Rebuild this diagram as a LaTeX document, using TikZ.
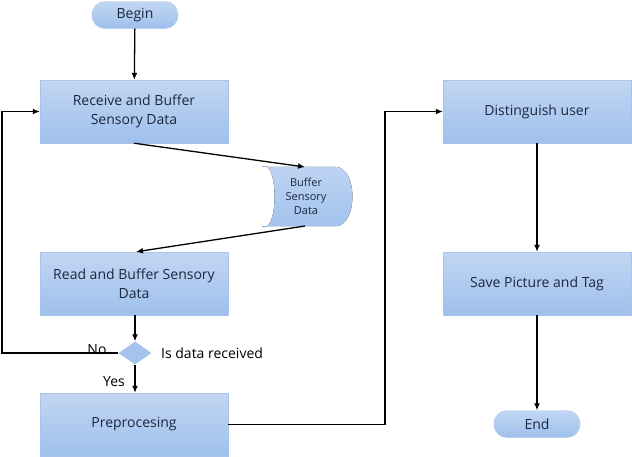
\documentclass[tikz,border=0pt]{standalone}
\usepackage{fontspec}
\setmainfont{Open Sans}
\usetikzlibrary{shapes.geometric,arrows.meta}
\definecolor{boxtop}{HTML}{C2D6F3}
\definecolor{boxbot}{HTML}{9EC0EC}
\definecolor{boxedge}{HTML}{A8C4EA}
\definecolor{txt}{HTML}{1C2740}
\definecolor{diafill}{HTML}{A5C3EC}
\tikzset{
  procbox/.style={rectangle, top color=boxtop, bottom color=boxbot, draw=boxedge, line width=0.4pt,
    minimum width=188pt, minimum height=63pt, align=center, text=txt, font=\fontsize{14}{19}\selectfont, inner sep=2pt},
  termbox/.style={rectangle, rounded corners=13pt, top color=boxtop, bottom color=boxbot, draw=boxedge, line width=0.4pt,
    minimum width=86pt, minimum height=27pt, text=txt, font=\fontsize{14}{17}\selectfont, inner sep=1pt},
  decbox/.style={diamond, fill=diafill, minimum width=33pt, minimum height=23pt, inner sep=0pt, aspect=1.45},
  conn/.style={draw=black, line width=1.3pt, -{Latex[length=7pt,width=6pt]}},
  plain/.style={font=\fontsize{14}{17}\selectfont, text=black, inner sep=1pt},
}
\begin{document}
\begin{tikzpicture}[x=1pt,y=-1pt]
\useasboundingbox (0,0) rectangle (632,456);
\node[termbox] (begin) at (135,15) {Begin};
\node[procbox] (recv) at (134,111.5) {Receive and Buffer\\Sensory Data};
% stored data shape
\node[minimum width=93pt, minimum height=59pt, inner sep=0pt] (buf) at (308.5,196.5) {};
\fill[top color=boxtop, bottom color=boxbot]
  (buf.north west) -- ([xshift=-20pt]buf.north east)
  .. controls ([xshift=3pt]buf.north east) and ([xshift=3pt]buf.south east) .. ([xshift=-20pt]buf.south east)
  -- (buf.south west)
  .. controls ([xshift=17pt,yshift=-10pt]buf.south west) and ([xshift=17pt,yshift=10pt]buf.north west) .. cycle;
\node[align=center, text=txt, font=\fontsize{11}{14}\selectfont] (buftext) at (306,196) {Buffer\\Sensory\\Data};
\coordinate (buftop) at (305,167);
\coordinate (bufbot) at (305,226);
\node[procbox] (read) at (134,283.5) {Read and Buffer Sensory\\Data};
\node[decbox] (dec) at (135,353) {};
\node[plain, anchor=west] (isrec) at (160,353) {Is data received};
\node[procbox] (pre) at (134,424.5) {Preprocesing};
\node[procbox] (dist) at (537,111.5) {Distinguish user};
\node[procbox] (save) at (537,283.5) {Save Picture and Tag};
\node[termbox] (end) at (537,424) {End};
\coordinate (leftx) at (2,0);
\coordinate (midx) at (385,0);

\draw[conn] (begin) -- (recv);
\draw[conn] (recv.south) -- (buftop);
\draw[conn] (bufbot) -- ([xshift=2pt]read.north);
\draw[conn] (read.south -| dec) -- (dec.north);
\draw[conn] (dec.west) -- (dec.west -| leftx) -- (recv.west -| leftx) -- (recv.west);
\draw[conn] (dec.south) -- (pre.north -| dec);
\draw[conn] (pre.east) -- (pre.east -| midx) -- (dist.west -| midx) -- (dist.west);
\draw[conn] (dist) -- (save);
\draw[conn] (save) -- (end);
\node[plain, anchor=south] (no) at (97,356) {No};
\node[plain, anchor=east] (yes) at (126,382) {Yes};
\end{tikzpicture}
\end{document}
